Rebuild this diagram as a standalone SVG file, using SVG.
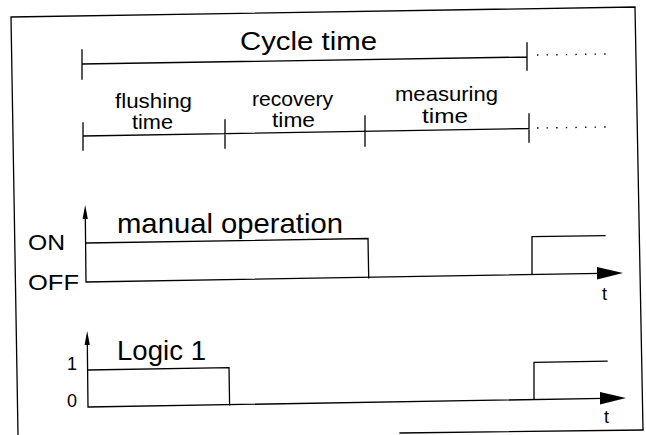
<svg xmlns="http://www.w3.org/2000/svg" width="646" height="435" viewBox="0 0 646 435">
<style>
.ln{fill:none;stroke:#000;stroke-width:1.3;stroke-linecap:square}
.dot{fill:none;stroke:#000;stroke-width:1.4;stroke-dasharray:1.4 8.2}
.ah{fill:#000;stroke:none}
text{font-family:"Liberation Sans",Arial,sans-serif;fill:#000}
</style>
<rect width="646" height="435" fill="#fff"/>
<g id="frame">
<path class="ln" d="M11,17 L635,7 L643,430 M11,17 L18,435 M400,433 L643,430"/>
</g>
<g id="cycle-time">
<path class="ln" d="M82,50 L82,79 M82,64 L527,57 M527,43 L527,70"/>
<path class="dot" d="M537,55 L606,54"/>
<text x="240" y="50" font-size="26" textLength="137" lengthAdjust="spacingAndGlyphs">Cycle time</text>
</g>
<g id="phases">
<path class="ln" d="M83,123 L83,150 M225,120 L225,148 M365,116 L365,146 M529,114 L529,142 M83,136 L529,128.5"/>
<path class="dot" d="M537,128 L606,127"/>
<g id="flushing">
<text x="115" y="108" font-size="21" textLength="77" lengthAdjust="spacingAndGlyphs">flushing</text>
<text x="132" y="129" font-size="21" textLength="41" lengthAdjust="spacingAndGlyphs">time</text>
</g>
<g id="recovery">
<text x="252" y="106" font-size="21" textLength="81" lengthAdjust="spacingAndGlyphs">recovery</text>
<text x="272" y="127" font-size="21" textLength="43" lengthAdjust="spacingAndGlyphs">time</text>
</g>
<g id="measuring">
<text x="395" y="101" font-size="21" textLength="103" lengthAdjust="spacingAndGlyphs">measuring</text>
<text x="422" y="123" font-size="21" textLength="46" lengthAdjust="spacingAndGlyphs">time</text>
</g>
</g>
<g id="manual-operation">
<path class="ln" d="M86,282 L85.3,216 M86,282 L600,273.4"/>
<polygon class="ah" points="85.2,205 82.6,219 87.8,219"/>
<polygon class="ah" points="623,273 597,267 597,279.5"/>
<path class="ln" d="M86,243 L368,238.5 L368.7,277.8 M532,274.4 L532,236.6 L605,235.7"/>
<text x="28" y="250" font-size="22" textLength="37" lengthAdjust="spacingAndGlyphs">ON</text>
<text x="28" y="290" font-size="22" textLength="51" lengthAdjust="spacingAndGlyphs">OFF</text>
<text x="117" y="233" font-size="28" textLength="226" lengthAdjust="spacingAndGlyphs">manual operation</text>
<text x="602" y="300" font-size="18">t</text>
</g>
<g id="logic-1">
<path class="ln" d="M88,407 L87.3,342 M88,407 L603,398.4"/>
<polygon class="ah" points="87.2,331 84.6,345 89.8,345"/>
<polygon class="ah" points="626,398 600,392 600,404.5"/>
<path class="ln" d="M88,370 L229,367.6 L229.6,404.8 M534,399.4 L534,362.4 L607,361.2"/>
<text x="67" y="370" font-size="18">1</text>
<text x="67" y="407" font-size="18">0</text>
<text x="117" y="360" font-size="28" textLength="89" lengthAdjust="spacingAndGlyphs">Logic 1</text>
<text x="604" y="423" font-size="18">t</text>
</g>
</svg>
